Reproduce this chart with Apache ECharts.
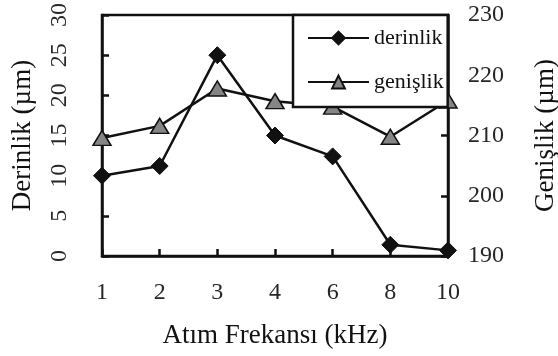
<!DOCTYPE html>
<html>
<head>
<meta charset="utf-8">
<script src="https://cdn.jsdelivr.net/npm/echarts@6/dist/echarts.min.js"></script>
<style>
  html, body { margin: 0; padding: 0; background: #fff; }
  #chart { width: 558px; height: 356px; }
</style>
</head>
<body>
<div id="chart"></div>
<script>
// Pulse frequency (kHz) categories
const frequencies = ['1', '2', '3', '4', '6', '8', '10'];
// Depth in µm (left axis)
const depthValues = [10, 11.2, 25, 15, 12.4, 1.4, 0.7];
// Width in µm (right axis)
const widthValues = [209.6, 211.6, 217.8, 215.7, 214.8, 209.8, 215.8];

const FONT = '"Liberation Serif", "Times New Roman", serif';
const INK = '#111';
const LABEL = '#262626';

const chart = echarts.init(document.getElementById('chart'), null, { renderer: 'canvas' });

chart.setOption({
  animation: false,
  backgroundColor: '#fff',
  grid: {
    left: 102, right: 110, top: 15, bottom: 100,
    outerBoundsMode: 'none',
    containLabel: false,
    show: true, borderColor: INK, borderWidth: 2.5, backgroundColor: 'transparent'
  },
  legend: {
    left: 293, top: 15,
    orient: 'vertical',
    padding: [12, 4, 14, 14],
    itemGap: 22,
    itemWidth: 61, itemHeight: 16,
    borderColor: INK, borderWidth: 2.5,
    backgroundColor: '#fff',
    textStyle: { fontFamily: FONT, fontSize: 22, color: INK },
    data: ['derinlik', 'genişlik']
  },
  xAxis: {
    type: 'category',
    data: frequencies,
    boundaryGap: false,
    name: 'Atım Frekansı (kHz)',
    nameLocation: 'middle',
    nameGap: 66,
    nameTextStyle: { fontFamily: FONT, fontSize: 27, color: INK },
    axisLine: { lineStyle: { color: INK, width: 2.5 } },
    axisTick: { inside: true, length: 7, lineStyle: { color: INK, width: 2.5 } },
    axisLabel: { fontFamily: FONT, fontSize: 24, color: LABEL, margin: 25 },
    splitLine: { show: false }
  },
  yAxis: [
    {
      type: 'value',
      min: 0, max: 30, interval: 5,
      name: 'Derinlik (µm)',
      nameLocation: 'middle',
      nameGap: 66,
      nameRotate: 90,
      nameTextStyle: { fontFamily: FONT, fontSize: 27, color: INK },
      axisLine: { show: true, lineStyle: { color: INK, width: 2.5 } },
      axisTick: { show: true, inside: true, length: 7, lineStyle: { color: INK, width: 2.5 } },
      axisLabel: { fontFamily: FONT, fontSize: 24, color: LABEL, rotate: 90, margin: 30 },
      splitLine: { show: false }
    },
    {
      type: 'value',
      min: 190, max: 230, interval: 10,
      position: 'right',
      name: 'Genişlik (µm)',
      nameLocation: 'middle',
      nameGap: 84,
      nameRotate: 90,
      nameTextStyle: { fontFamily: FONT, fontSize: 27, color: INK },
      axisLine: { show: true, lineStyle: { color: INK, width: 2.5 } },
      axisTick: { show: true, inside: true, length: 7, lineStyle: { color: INK, width: 2.5 } },
      axisLabel: { fontFamily: FONT, fontSize: 24, color: LABEL, margin: 20 },
      splitLine: { show: false }
    }
  ],
  series: [
    {
      name: 'derinlik',
      type: 'line',
      yAxisIndex: 0,
      data: depthValues,
      symbol: 'diamond',
      symbolSize: 17,
      showAllSymbol: true,
      lineStyle: { color: INK, width: 2.5 },
      itemStyle: { color: INK, borderColor: INK, borderWidth: 1 }
    },
    {
      name: 'genişlik',
      type: 'line',
      yAxisIndex: 1,
      data: widthValues,
      symbol: 'triangle',
      symbolSize: [18, 15],
      showAllSymbol: true,
      lineStyle: { color: INK, width: 2.5 },
      itemStyle: { color: '#858585', borderColor: INK, borderWidth: 1.5 }
    }
  ]
});
</script>
</body>
</html>
